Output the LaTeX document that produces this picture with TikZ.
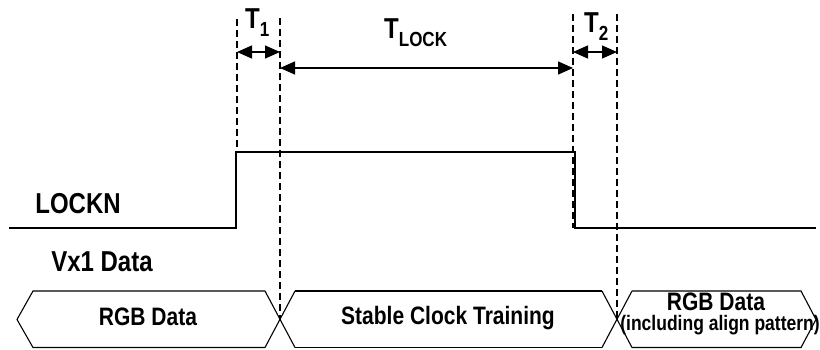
\documentclass[tikz,border=0pt]{standalone}
\usepackage{fontspec}
\setmainfont{Liberation Sans}
\usetikzlibrary{arrows.meta}
\newcommand{\tsub}[1]{\raisebox{-7pt}{\fontsize{17}{17}\selectfont #1}}
\newcommand{\tall}[1]{\scalebox{1}[1.2]{#1}}
\tikzset{
  sig/.style={line width=1.6pt},
  guide/.style={line width=1.7pt, dash pattern=on 7pt off 4pt},
  dimarrow/.style={line width=1.4pt, {Triangle[length=15pt,width=13pt]}-{Triangle[length=15pt,width=13pt]}},
  bus/.style={line width=1.1pt, line join=miter},
  biglbl/.style={font=\bfseries\fontsize{24}{24}\selectfont, inner sep=0pt, anchor=base},
  tlbl/.style={font=\bfseries\fontsize{24}{24}\selectfont, inner sep=0pt, anchor=base west},
  boxlbl/.style={font=\bfseries\fontsize{21}{21}\selectfont, inner sep=0pt, anchor=base},
  smalllbl/.style={font=\bfseries\fontsize{17.5}{17.5}\selectfont, inner sep=0pt, anchor=base}
}
\begin{document}
\begin{tikzpicture}[x=1pt,y=-1pt]
\useasboundingbox (0,0) rectangle (820,349);
% guide coordinates
\coordinate (g1t) at (237,19);
\coordinate (g1b) at (237,152);
\coordinate (g2t) at (280,18);
\coordinate (g2b) at (280,319.5);
\coordinate (g3t) at (573,14);
\coordinate (g3b) at (573,228);
\coordinate (g4t) at (617,14);
\coordinate (g4b) at (617,319.5);
% dashed guides
\draw[guide] (g1t) -- (g1b);
\draw[guide] (g2t) -- (g2b);
\draw[guide] (g3t) -- (g3b);
\draw[guide] (g4t) -- (g4b);
% dimension arrows
\coordinate (a1l) at (237,52);
\coordinate (a1r) at (280,52);
\coordinate (a2l) at (280,68);
\coordinate (a2r) at (573,68);
\coordinate (a3l) at (573,52);
\coordinate (a3r) at (617,52);
\draw[dimarrow] (a1l) -- (a1r);
\draw[dimarrow] (a2l) -- (a2r);
\draw[dimarrow] (a3l) -- (a3r);
% labels
\node[tlbl] (t1) at (245,28) {\tall{T\tsub{1}}};
\node[tlbl] (tlock) at (384,38) {\tall{T\tsub{LOCK}}};
\node[tlbl] (t2) at (584,32) {\tall{T\tsub{2}}};
% LOCKN signal
\coordinate (s0) at (9,228);
\coordinate (s1) at (236,228);
\coordinate (s2) at (236,152);
\coordinate (s3) at (575,152);
\coordinate (s4) at (575,228);
\coordinate (s5) at (816,228);
\draw[sig] (s0) -- (s1) -- (s2) -- (s3) -- (s4) -- (s5);
\node[biglbl] (lockn) at (78,213) {\tall{LOCKN}};
\node[biglbl] (vx1) at (102,271) {\tall{Vx1 Data}};
% bus
\draw[bus] (265,291) -- (33,291) -- (17,319.5) -- (33,347.5) -- (265,347.5);
\draw[bus] (265,291) -- (295,347.5);
\draw[bus] (265,347.5) -- (295,291);
\draw[bus] (295,291) -- (602,291);
\draw[bus] (295,347.5) -- (602,347.5);
\draw[bus] (602,291) -- (632,347.5);
\draw[bus] (602,347.5) -- (632,291);
\draw[bus] (632,291) -- (801,291) -- (816,319.5) -- (801,347.5) -- (632,347.5);
\node[boxlbl] (rgb1) at (148,325) {\tall{RGB Data}};
\node[boxlbl] (sct) at (448,324) {\tall{Stable Clock Training}};
\node[boxlbl] (rgb2) at (716,310) {\tall{RGB Data}};
\node[smalllbl] (incl) at (720,330) {\tall{(including align pattern)}};
\end{tikzpicture}
\end{document}
